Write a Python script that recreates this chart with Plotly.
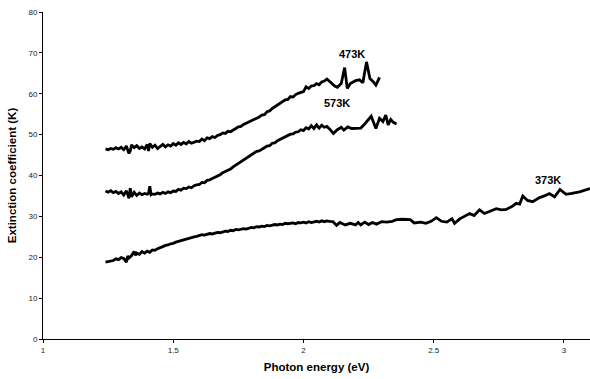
import plotly.graph_objects as go

x_473 = [1.240, 1.250, 1.260, 1.270, 1.280, 1.290, 1.300, 1.310, 1.320, 1.330, 1.335, 1.340, 1.350, 1.360,
         1.370, 1.380, 1.390, 1.400, 1.405, 1.410, 1.420, 1.430, 1.440, 1.450, 1.460, 1.470, 1.480, 1.490,
         1.500, 1.510, 1.520, 1.530, 1.540, 1.550, 1.560, 1.570, 1.580, 1.590, 1.600, 1.610, 1.620, 1.630,
         1.640, 1.650, 1.660, 1.670, 1.680, 1.690, 1.700, 1.710, 1.720, 1.730, 1.740, 1.750, 1.760, 1.770,
         1.780, 1.790, 1.800, 1.810, 1.820, 1.830, 1.840, 1.850, 1.860, 1.870, 1.880, 1.890, 1.900, 1.910,
         1.920, 1.930, 1.940, 1.950, 1.960, 1.970, 1.980, 1.990, 2.000, 2.010, 2.020, 2.030, 2.040, 2.050,
         2.060, 2.070, 2.080, 2.090, 2.100, 2.110, 2.120, 2.130, 2.145, 2.158, 2.168, 2.180, 2.190, 2.200,
         2.215, 2.228, 2.242, 2.255, 2.267, 2.278, 2.292]
y_473 = [46.5, 46.3, 46.6, 46.4, 46.8, 46.5, 46.9, 46.3, 47.2, 45.4, 46.0, 47.5, 46.8, 47.3,
         46.6, 47.0, 46.5, 47.6, 46.0, 47.8, 46.9, 47.4, 46.6, 47.2, 47.6, 47.0, 47.5, 47.2,
         47.8, 47.4, 48.0, 47.6, 48.1, 47.7, 48.3, 47.9, 48.1, 48.4, 48.3, 48.9, 48.5, 49.2,
         49.0, 49.5, 49.3, 49.8, 50.0, 50.4, 50.3, 50.8, 50.7, 51.2, 51.5, 51.9, 52.0, 52.5,
         52.8, 53.0, 53.4, 53.6, 54.0, 54.3, 54.8, 54.9, 55.6, 55.8, 56.4, 56.8, 57.2, 57.6,
         58.0, 58.5, 58.6, 59.3, 59.2, 59.8, 60.1, 60.3, 60.5, 61.7, 61.3, 61.9, 62.0, 62.5,
         62.2, 62.9, 63.1, 63.6, 63.0, 62.5, 61.9, 61.6, 62.5, 66.4, 61.3, 62.5, 62.9, 63.2,
         63.4, 62.7, 67.8, 63.7, 63.0, 62.1, 64.0]

x_573 = [1.240, 1.250, 1.260, 1.270, 1.280, 1.290, 1.300, 1.310, 1.320, 1.330, 1.335, 1.340, 1.350, 1.360,
         1.370, 1.380, 1.390, 1.400, 1.405, 1.410, 1.415, 1.420, 1.430, 1.440, 1.450, 1.460, 1.470, 1.480,
         1.490, 1.500, 1.510, 1.520, 1.530, 1.540, 1.550, 1.560, 1.570, 1.580, 1.590, 1.600, 1.610, 1.620,
         1.630, 1.640, 1.650, 1.660, 1.670, 1.680, 1.690, 1.700, 1.710, 1.720, 1.730, 1.740, 1.750, 1.760,
         1.770, 1.780, 1.790, 1.800, 1.810, 1.820, 1.830, 1.840, 1.850, 1.860, 1.870, 1.880, 1.890, 1.900,
         1.910, 1.920, 1.930, 1.940, 1.950, 1.960, 1.970, 1.980, 1.990, 2.000, 2.010, 2.020, 2.030, 2.040,
         2.050, 2.060, 2.070, 2.080, 2.090, 2.100, 2.115, 2.130, 2.145, 2.155, 2.170, 2.185, 2.200, 2.220,
         2.235, 2.260, 2.278, 2.292, 2.305, 2.316, 2.325, 2.335, 2.345, 2.357]
y_573 = [36.2, 35.9, 36.3, 35.8, 36.1, 35.6, 36.0, 35.2, 36.3, 34.4, 36.9, 34.8, 35.9, 35.1,
         35.7, 35.3, 35.6, 35.4, 35.6, 37.4, 35.3, 35.5, 35.4, 35.7, 35.5, 35.9, 35.6, 36.0,
         35.8, 36.2, 36.1, 36.6, 36.4, 36.9, 36.8, 37.2, 37.0, 37.5, 37.7, 37.8, 38.3, 38.2,
         38.8, 38.9, 39.3, 39.6, 40.0, 40.2, 40.7, 41.0, 41.2, 41.6, 42.1, 42.5, 43.0, 43.4,
         43.7, 44.2, 44.6, 45.0, 45.3, 45.9, 46.0, 46.5, 46.8, 47.2, 47.3, 47.9, 48.0, 48.5,
         48.8, 49.0, 49.5, 49.6, 50.1, 50.2, 50.6, 50.7, 51.2, 51.0, 51.7, 51.4, 52.2, 51.5,
         52.4, 51.6, 52.3, 51.8, 52.0, 51.4, 50.3, 51.2, 51.8, 51.1, 51.9, 51.5, 51.6, 51.6,
         52.6, 54.5, 51.5, 54.0, 53.2, 54.8, 52.4, 53.7, 53.0, 52.6]

x_373 = [1.240, 1.250, 1.260, 1.270, 1.280, 1.290, 1.300, 1.310, 1.320, 1.325, 1.330, 1.340, 1.350, 1.355,
         1.360, 1.370, 1.380, 1.390, 1.400, 1.410, 1.420, 1.430, 1.440, 1.450, 1.460, 1.470, 1.480, 1.490,
         1.500, 1.510, 1.520, 1.530, 1.540, 1.550, 1.560, 1.570, 1.580, 1.590,
         1.600, 1.610, 1.620, 1.630, 1.640, 1.650, 1.660, 1.670, 1.680, 1.690, 1.700, 1.710, 1.720, 1.730,
         1.740, 1.750, 1.760, 1.770, 1.780, 1.790, 1.800, 1.810, 1.820, 1.830, 1.840, 1.850, 1.860, 1.870,
         1.880, 1.890, 1.900, 1.910, 1.920, 1.930, 1.940, 1.950, 1.960, 1.970, 1.980, 1.990, 2.000, 2.010,
         2.020, 2.030, 2.040, 2.050, 2.060, 2.070, 2.080, 2.090, 2.100, 2.113, 2.127, 2.140, 2.160, 2.180,
         2.200, 2.210, 2.220, 2.235, 2.250, 2.265, 2.280, 2.300, 2.320, 2.340, 2.357, 2.380, 2.410, 2.425,
         2.450, 2.470, 2.490, 2.510, 2.530, 2.550, 2.570, 2.580, 2.600, 2.620, 2.638, 2.655, 2.676, 2.695,
         2.715, 2.740, 2.760, 2.778, 2.800, 2.817, 2.830, 2.842, 2.860, 2.880, 2.906, 2.925, 2.944, 2.964,
         2.985, 3.008, 3.030, 3.060, 3.100]
y_373 = [18.8, 18.9, 19.1, 19.2, 19.6, 19.4, 19.9, 19.7, 18.8, 20.3, 19.8, 20.4, 21.4, 20.5,
         21.0, 20.7, 21.4, 21.0, 21.5, 21.2, 21.8, 21.7, 22.1, 22.3, 22.6, 22.9, 23.0, 23.3,
         23.4, 23.7, 23.9, 24.0, 24.3, 24.4, 24.7, 24.8, 25.0, 25.1,
         25.3, 25.5, 25.4, 25.7, 25.8, 25.7, 26.0, 26.1, 26.0, 26.3, 26.4, 26.3, 26.6, 26.5,
         26.8, 26.7, 26.9, 27.0, 26.9, 27.2, 27.3, 27.2, 27.5, 27.4, 27.6, 27.5, 27.8, 27.7,
         27.9, 28.0, 27.9, 28.1, 28.0, 28.3, 28.2, 28.3, 28.4, 28.2, 28.5, 28.4, 28.6, 28.4,
         28.7, 28.5, 28.6, 28.8, 28.6, 28.9, 28.7, 28.9, 28.8, 28.7, 27.8, 28.5, 27.9, 28.3,
         27.9, 28.5, 27.9, 28.6, 28.0, 28.5, 28.1, 28.7, 28.6, 28.8, 29.2, 29.3, 29.2, 28.4,
         28.6, 28.3, 28.8, 29.7, 28.8, 28.6, 29.4, 28.3, 29.4, 30.0, 30.7, 30.2, 31.6, 30.7,
         31.2, 31.9, 31.6, 31.7, 32.4, 33.2, 33.0, 35.0, 33.9, 33.6, 34.6, 35.0, 35.6, 34.8,
         36.6, 35.4, 35.6, 36.0, 36.8]

series = [("473K", x_473, y_473), ("573K", x_573, y_573), ("373K", x_373, y_373)]

label_text = ["473K", "573K", "373K"]
label_x = [2.186, 2.13, 2.94]
label_y = [69.7, 57.7, 38.9]

x_ticks = [1, 1.5, 2, 2.5, 3]
y_ticks = [0, 10, 20, 30, 40, 50, 60, 70, 80]

FONT = "Arial, Liberation Sans, sans-serif"

fig = go.Figure()
for name, xs, ys in series:
    fig.add_trace(go.Scatter(x=xs, y=ys, mode="lines", name=name,
                             line=dict(color="black", width=2.8), showlegend=False))

for t, lx, ly in zip(label_text, label_x, label_y):
    fig.add_annotation(x=lx, y=ly, text="<b>" + t + "</b>", showarrow=False,
                       font=dict(family=FONT, size=11, color="black"))

fig.update_layout(
    width=590, height=379,
    margin=dict(l=43, r=0, t=12, b=40),
    paper_bgcolor="white", plot_bgcolor="white",
    font=dict(family=FONT, color="black"),
)
fig.update_xaxes(
    range=[1, 3.1], tickvals=x_ticks, ticktext=[str(v) for v in x_ticks],
    showline=True, linecolor="black", linewidth=1, showgrid=False, zeroline=False,
    ticks="outside", ticklen=3, tickcolor="black",
    tickfont=dict(family=FONT, size=8, color="#222"),
    title=dict(text="<b>Photon energy (eV)</b>", font=dict(family=FONT, size=11.5, color="black"), standoff=9),
)
fig.update_yaxes(
    range=[0, 80], tickvals=y_ticks,
    showline=True, linecolor="black", linewidth=1, showgrid=False, zeroline=False,
    ticks="outside", ticklen=3, tickcolor="black",
    tickfont=dict(family=FONT, size=8, color="#222"),
    title=dict(text="<b>Extinction coefficient (K)</b>", font=dict(family=FONT, size=11.5, color="black"), standoff=9),
)

fig.write_html("out.html")
